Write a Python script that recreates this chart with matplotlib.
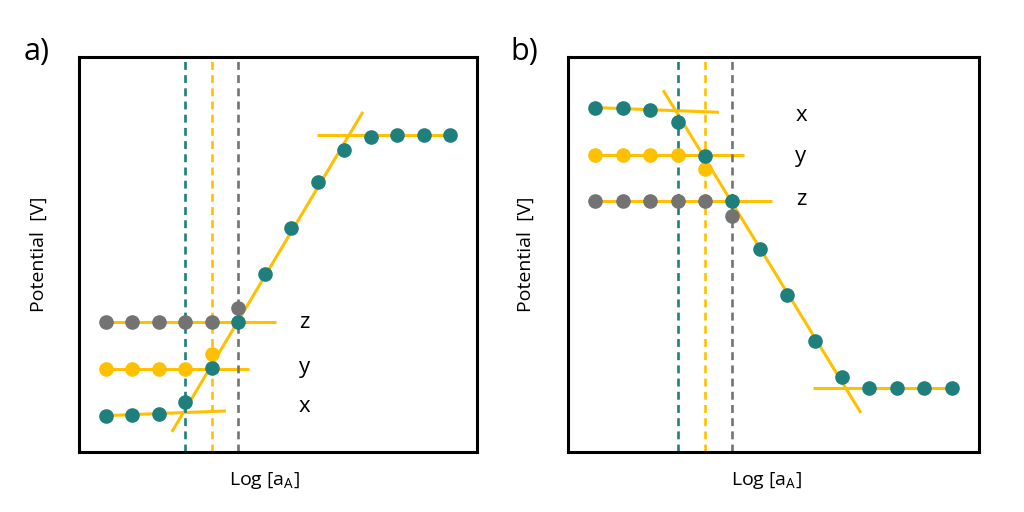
import numpy as np
import matplotlib
matplotlib.use("Agg")
import matplotlib.pyplot as plt

plt.rcParams['font.family'] = ['Open Sans', 'DejaVu Sans']
plt.rcParams['mathtext.fontset'] = 'custom'
plt.rcParams['mathtext.rm'] = 'Open Sans'

TEAL = "#1e7f7c"
YELLOW = "#ffc000"
GRAY = "#737373"

# x positions of the measurement points (log activity, arbitrary units)
pts = np.arange(1, 15)

# ---- panel a) potential rises with log a_A
a_x_x = pts            # teal series (ion x), full titration curve
a_x_y = [9.2, 9.4, 9.6, 12.7, 21.3, 32.9, 45.1, 56.7, 68.4, 76.5, 79.8, 80.3, 80.3, 80.3]
a_y_x = pts[:5]        # yellow series (ion y)
a_y_y = [21.0, 21.0, 21.0, 21.0, 24.8]
a_z_x = pts[:6]        # gray series (ion z)
a_z_y = [32.9, 32.9, 32.9, 32.9, 32.9, 36.5]
# fitted lines: (x0, x1, y0, y1)
a_fits = [(3.5, 10.7, 5.1, 86.1),
          (8.97, 14.0, 80.3, 80.3),
          (1.0, 7.42, 32.9, 32.9),
          (1.0, 6.41, 21.0, 21.0),
          (1.0, 5.54, 9.2, 10.4)]
a_vlines = [4.0, 5.0, 6.0]
a_labels = ["z", "y", "x"]
a_label_y = [32.9, 21.3, 11.6]

# ---- panel b) potential falls with log a_A
b_x_x = pts
b_x_y = [87.2, 87.0, 86.6, 83.6, 75.0, 63.5, 51.4, 39.7, 28.1, 19.1, 16.3, 16.3, 16.3, 16.3]
b_y_x = pts[:5]
b_y_y = [75.3, 75.3, 75.3, 75.3, 71.6]
b_z_x = pts[:6]
b_z_y = [63.5, 63.5, 63.5, 63.5, 63.5, 59.7]
b_fits = [(3.47, 10.69, 91.6, 9.9),
          (8.94, 14.0, 16.3, 16.3),
          (1.0, 7.45, 63.5, 63.5),
          (1.0, 6.42, 75.3, 75.3),
          (1.0, 5.51, 87.2, 86.0)]
b_vlines = [4.0, 5.0, 6.0]
b_labels = ["x", "y", "z"]
b_label_y = [85.3, 74.7, 63.8]

vcolors = [TEAL, YELLOW, GRAY]


def draw(ax, sx, sy, yx, yy, zx, zy, fits, vlines, labels, label_y, tag, tagx, ylab_x, xlab_x):
    for x0, x1, y0, y1 in fits:
        ax.plot([x0, x1], [y0, y1], color=YELLOW, lw=2.2, zorder=1, solid_capstyle='butt')
    for v, c in zip(vlines, vcolors):
        ax.axvline(v, color=c, lw=1.9, ls=(0, (3, 2)), zorder=2)
    ax.plot(zx, zy, "o", color=GRAY, ms=9.5, zorder=3)
    ax.plot(yx, yy, "o", color=YELLOW, ms=9.5, zorder=3)
    ax.plot(sx, sy, "o", color=TEAL, ms=9.5, zorder=4)
    for t, ty in zip(labels, label_y):
        ax.text(8.5, ty, t, fontsize=16, ha="center", va="center")
    ax.set_xlim(0, 15)
    ax.set_ylim(0, 100)
    ax.set_xticks([])
    ax.set_yticks([])
    for s in ax.spines.values():
        s.set_linewidth(2.2)
    ax.set_ylabel("Potential  [V]", fontsize=14)
    ax.yaxis.set_label_coords(ylab_x, 0.5)
    ax.set_xlabel("Log [a$_\\mathrm{A}$]", fontsize=14)
    ax.xaxis.set_label_coords(xlab_x, -0.045)
    ax.text(tagx, 1.013, tag, transform=ax.transAxes, fontsize=22, va="center", ha="left")


fig = plt.figure(figsize=(10.24, 5.12), dpi=100)
ax1 = fig.add_axes([79/1024, 60/512, 398/1024, 395/512])
ax2 = fig.add_axes([568/1024, 60/512, 411/1024, 395/512])

draw(ax1, a_x_x, a_x_y, a_y_x, a_y_y, a_z_x, a_z_y, a_fits, a_vlines,
     a_labels, a_label_y, "a)", -0.14, -0.078, 0.467)
draw(ax2, b_x_x, b_x_y, b_y_x, b_y_y, b_z_x, b_z_y, b_fits, b_vlines,
     b_labels, b_label_y, "b)", -0.14, -0.080, 0.484)

fig.savefig("out.png", dpi=100)
